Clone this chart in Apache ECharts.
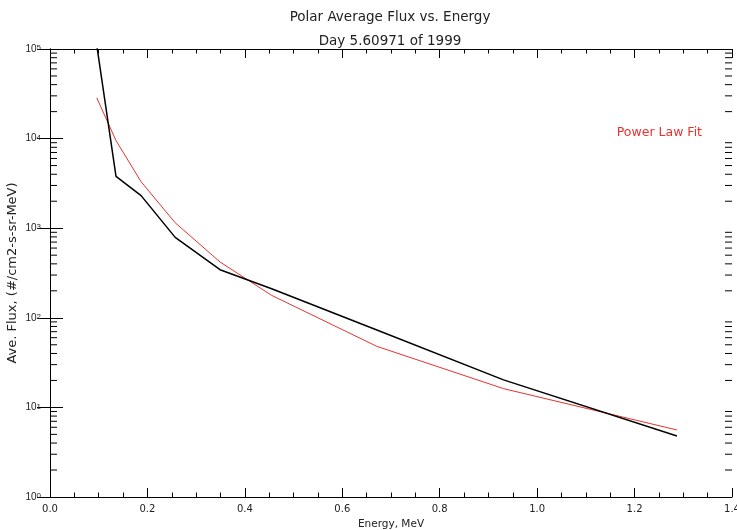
<!DOCTYPE html>
<html><head><meta charset="utf-8">
<script src="https://cdn.jsdelivr.net/npm/echarts@6/dist/echarts.min.js"></script>
<style>html,body{margin:0;padding:0;background:#fff}#c{width:737px;height:530px}</style>
</head><body><div id="c"></div>
<script>
// Data
const energy   = [0.096, 0.1355, 0.187, 0.257, 0.349, 0.455, 0.671, 0.931, 1.287];
const fluxAvg  = [110000, 3790, 2310, 790, 344, 211, 73, 20.3, 4.8];
const fluxFit  = [28500, 9500, 3300, 1150, 420, 178, 48, 16.2, 5.6];
const xTickLabels = ['0.0','0.2','0.4','0.6','0.8','1.0','1.2','1.4'];
const yDecades = [1, 10, 100, 1000, 10000, 100000];
const yMinorMult = [2,3,4,5,6,7,8,9];

const yMinorValues = [];
yDecades.slice(0, -1).forEach(d => yMinorMult.forEach(m => yMinorValues.push(d * m)));

const FONT = 'Liberation Sans, DejaVu Sans, sans-serif';
const WIDE = 'DejaVu Sans, Liberation Sans, sans-serif';
const chart = echarts.init(document.getElementById('c'));

const xCommon = {
  type: 'value', min: 0, max: 1.4, interval: 0.2,
  axisLine: {lineStyle: {color: '#000', width: 1}},
  axisTick: {inside: true, length: 9, lineStyle: {color: '#000'}},
  minorTick: {show: true, splitNumber: 4, length: 4.5, lineStyle: {color: '#000'}},
  splitLine: {show: false}
};
const yCommon = {
  type: 'log', min: 1, max: 100000, logBase: 10,
  axisLine: {show: true, lineStyle: {color: '#000', width: 1}},
  axisTick: {show: true, inside: true, length: 13, lineStyle: {color: '#000'}},
  splitLine: {show: false}
};

chart.setOption({
  animation: false,
  backgroundColor: '#fff',
  title: [
    {text: 'Polar Average Flux vs. Energy', left: 385, top: 5, textAlign: 'center',
     textStyle: {fontFamily: WIDE, fontSize: 13.5, fontWeight: 'normal', color: '#222'}},
    {text: 'Day 5.60971 of 1999', left: 385, top: 29, textAlign: 'center',
     textStyle: {fontFamily: WIDE, fontSize: 13.5, fontWeight: 'normal', color: '#222'}}
  ],
  legend: {
    data: [{name: 'Power Law Fit', icon: 'none'}],
    right: 30, top: 121, itemWidth: 0, itemGap: 0,
    textStyle: {fontFamily: WIDE, fontSize: 12.5, color: '#e8322e'}
  },
  grid: {left: 50, right: 5, top: 49, bottom: 33, containLabel: false, outerBoundsMode: 'none'},
  xAxis: [
    Object.assign({}, xCommon, {
      position: 'bottom',
      name: 'Energy, MeV', nameLocation: 'middle', nameGap: 17,
      nameTextStyle: {fontFamily: WIDE, fontSize: 10.5, color: '#222'},
      axisLabel: {fontFamily: WIDE, fontSize: 10, color: '#222', margin: 7,
        formatter: v => xTickLabels[Math.round(v / 0.2)] || ''}
    }),
    Object.assign({}, xCommon, {position: 'top', axisLabel: {show: false}})
  ],
  yAxis: [
    Object.assign({}, yCommon, {
      position: 'left',
      name: 'Ave. Flux, (#/cm2-s-sr-MeV)', nameLocation: 'middle', nameGap: 31,
      nameMoveOverlap: false,
      nameTextStyle: {fontFamily: WIDE, fontSize: 13, color: '#222'},
      axisLabel: {
        margin: 9, color: '#222',
        formatter: v => '{b|10}{s|' + Math.round(Math.log10(v)) + '}',
        rich: {
          b: {fontFamily: FONT, fontSize: 10, color: '#222'},
          s: {fontFamily: FONT, fontSize: 8, color: '#222', verticalAlign: 'top'}
        }
      }
    }),
    Object.assign({}, yCommon, {position: 'right', axisLabel: {show: false}})
  ],
  series: [
    {
      name: 'Average Flux', type: 'line', xAxisIndex: 0, yAxisIndex: 0,
      data: energy.map((e, i) => [e, fluxAvg[i]]),
      showSymbol: false, symbol: 'none', clip: true,
      lineStyle: {color: '#000', width: 1.5}, z: 3
    },
    {
      name: 'Power Law Fit', type: 'line', xAxisIndex: 0, yAxisIndex: 0,
      data: energy.map((e, i) => [e, fluxFit[i]]),
      showSymbol: false, symbol: 'none', clip: true,
      itemStyle: {color: '#e8322e'},
      lineStyle: {color: '#e8322e', width: 1}, z: 2
    },
    {
      name: 'minorY', type: 'custom', xAxisIndex: 0, yAxisIndex: 0,
      silent: true, clip: false, z: 5,
      data: yMinorValues.map(v => [0, v]),
      renderItem: (params, api) => {
        const v = api.value(1);
        const pL = api.coord([0, v]);
        const pR = api.coord([1.4, v]);
        return {type: 'group', children: [
          {type: 'line', shape: {x1: pL[0], y1: pL[1], x2: pL[0] + 7, y2: pL[1]}, style: {stroke: '#000', lineWidth: 1}},
          {type: 'line', shape: {x1: pR[0], y1: pR[1], x2: pR[0] - 7, y2: pR[1]}, style: {stroke: '#000', lineWidth: 1}}
        ]};
      }
    }
  ]
});
</script>
</body></html>
